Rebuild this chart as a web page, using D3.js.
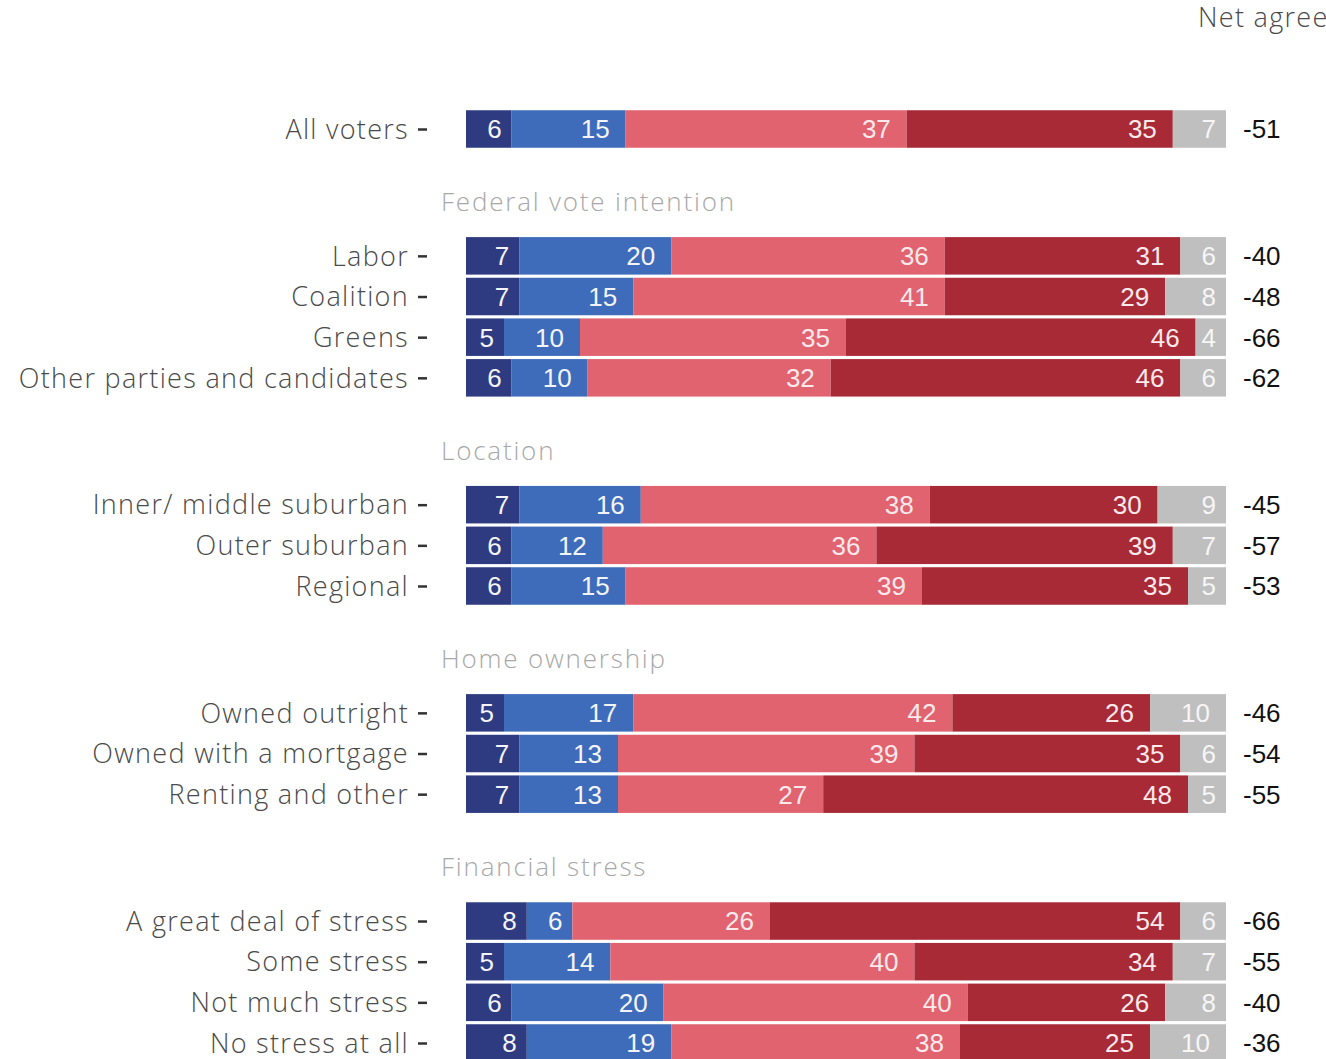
<!DOCTYPE html>
<html>
<head>
<meta charset="utf-8">
<script src="https://cdn.jsdelivr.net/npm/d3@7"></script>
<style>
  html, body { margin: 0; padding: 0; background: #fff; overflow: hidden; }
  svg { display: block; }
  .rowlabel { font-family: "Open Sans", Lato, sans-serif; font-weight: 300; font-size: 27px; letter-spacing: 1.3px; fill: #4a4a4a; }
  .group { font-family: "Open Sans", Lato, sans-serif; font-weight: 300; font-size: 26px; letter-spacing: 1.8px; fill: #a8a8a8; }
  .val { font-family: "Liberation Sans", Arial, sans-serif; font-size: 26px; }
  .net { font-family: "Liberation Sans", Arial, sans-serif; font-size: 26px; fill: #111; }
</style>
</head>
<body>
<svg id="chart" width="1326" height="1059"></svg>
<script>
// Response categories, left to right
const keys = ["Strongly agree", "Agree", "Disagree", "Strongly disagree", "Don't know"];
const colors = ["#2e3b80", "#3e6cba", "#e1636f", "#a72a36", "#bfbfbf"];
const textColors = ["#f4f4f8", "#f4f4f8", "#fbe9eb", "#fbe9eb", "#f6f6f6"];

// Rows and the group each belongs to
const rowLabels = [
  "All voters",
  "Labor", "Coalition", "Greens", "Other parties and candidates",
  "Inner/ middle suburban", "Outer suburban", "Regional",
  "Owned outright", "Owned with a mortgage", "Renting and other",
  "A great deal of stress", "Some stress", "Not much stress", "No stress at all"
];
const rowGroup = [0, 1, 1, 1, 1, 2, 2, 2, 3, 3, 3, 4, 4, 4, 4];
const groupTitles = ["", "Federal vote intention", "Location", "Home ownership", "Financial stress"];

// Percentages per row, one array per response category
const strongAgree    = [6, 7, 7, 5, 6, 7, 6, 6, 5, 7, 7, 8, 5, 6, 8];
const agree          = [15, 20, 15, 10, 10, 16, 12, 15, 17, 13, 13, 6, 14, 20, 19];
const disagree       = [37, 36, 41, 35, 32, 38, 36, 39, 42, 39, 27, 26, 40, 40, 38];
const strongDisagree = [35, 31, 29, 46, 46, 30, 39, 35, 26, 35, 48, 54, 34, 26, 25];
const dontKnow       = [7, 6, 8, 4, 6, 9, 7, 5, 10, 6, 5, 6, 7, 8, 10];
const netAgree       = [-51, -40, -48, -66, -62, -45, -57, -53, -46, -54, -55, -66, -55, -40, -36];

const series = [strongAgree, agree, disagree, strongDisagree, dontKnow];

const rows = rowLabels.map((label, i) => {
  const r = { label, group: rowGroup[i], net: netAgree[i] };
  keys.forEach((k, j) => r[k] = series[j][i]);
  return r;
});

const svg = d3.select("#chart");

// Vertical slot: row index plus extra room before each new group
const groupGap = 2.12;
const slot = (i) => i + rowGroup[i] * groupGap;
const y = d3.scaleLinear()
  .domain([0, slot(rows.length - 1)])
  .range([129, 1043]);
const barH = 37.5;

const x = d3.scaleLinear().domain([0, 100]).range([466, 1226]);

const stacked = d3.stack().keys(keys)(rows);

// Bars
const layers = svg.append("g").selectAll("g")
  .data(stacked)
  .join("g")
  .attr("fill", (d, j) => colors[j]);

layers.selectAll("rect")
  .data(d => d.map((s, i) => ({ s, i })))
  .join("rect")
  .attr("x", d => x(d.s[0]))
  .attr("width", d => x(d.s[1]) - x(d.s[0]))
  .attr("y", d => y(slot(d.i)) - barH / 2)
  .attr("height", barH);

// Value labels at the right end of each segment
const labels = svg.append("g").selectAll("g")
  .data(stacked)
  .join("g")
  .attr("fill", (d, j) => textColors[j]);

labels.selectAll("text")
  .data(d => d.map((s, i) => ({ s, i, v: s[1] - s[0] })))
  .join("text")
  .attr("class", "val")
  .attr("text-anchor", "end")
  .attr("x", d => x(d.s[1]) - (d.v >= 10 ? 16 : 10))
  .attr("y", d => y(slot(d.i)))
  .attr("dy", "0.36em")
  .text(d => d.v);

// Row labels with short ticks
const yAxis = d3.axisLeft(d3.scaleOrdinal().domain(rowLabels).range(rowLabels.map((_, i) => y(slot(i)))))
  .tickSize(9)
  .tickPadding(9);

const axisG = svg.append("g")
  .attr("transform", "translate(427,0)")
  .call(yAxis);
axisG.select(".domain").remove();
axisG.selectAll(".tick line").attr("stroke", "#333").attr("stroke-width", 2.5);
axisG.selectAll(".tick text")
  .attr("class", "rowlabel")
  .attr("font-family", null).attr("font-size", null)
  .attr("fill", null)
  .attr("dy", "0.34em");

// Group headings
svg.append("g").selectAll("text")
  .data(groupTitles.map((t, g) => ({ t, g })).filter(d => d.t))
  .join("text")
  .attr("class", "group")
  .attr("x", 441)
  .attr("y", d => y(slot(rowGroup.indexOf(d.g))) - 54)
  .attr("dy", "0.36em")
  .text(d => d.t);

// Net agree column
svg.append("text")
  .attr("class", "rowlabel")
  .attr("x", 1198)
  .attr("y", 27)
  .text("Net agree");

svg.append("g").selectAll("text")
  .data(rows)
  .join("text")
  .attr("class", "net")
  .attr("x", 1243)
  .attr("y", (d, i) => y(slot(i)))
  .attr("dy", "0.36em")
  .text(d => d.net);
</script>
</body>
</html>
